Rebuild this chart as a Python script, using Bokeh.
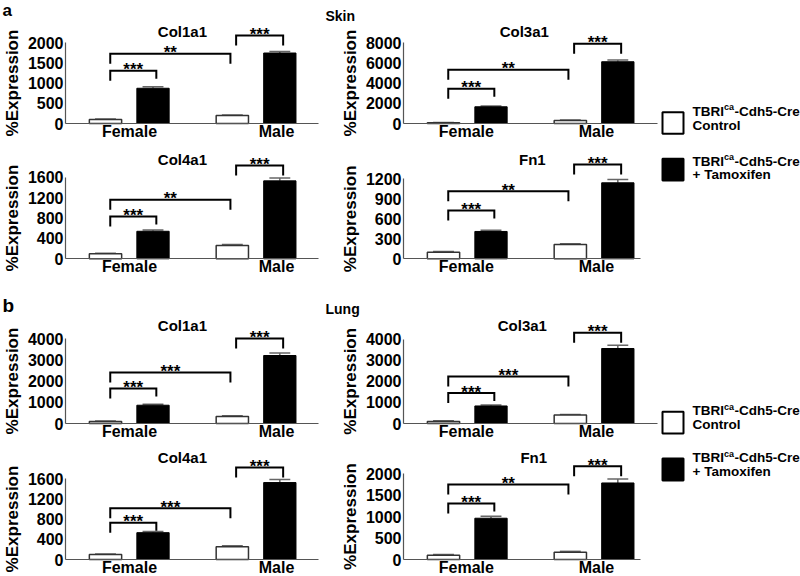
import math
from bokeh.plotting import figure
from bokeh.models import Range1d, FixedTicker
from bokeh.layouts import column, row
from bokeh.embed import file_html
from bokeh.resources import INLINE
from bokeh.core.properties import value

FONT = "Liberation Sans"

# ---------------- data ----------------
groups = ["Female", "Male"]

skin_genes = ["Col1a1", "Col3a1", "Col4a1", "Fn1"]
skin_ctrl = [[100, 200], [80, 300], [100, 260], [100, 215]]
skin_ctrl_err = [[10, 12], [20, 40], [10, 20], [8, 12]]
skin_tam = [[870, 1740], [1650, 6100], [540, 1530], [410, 1140]]
skin_tam_err = [[40, 40], [80, 180], [25, 55], [20, 50]]
skin_axis_max = [2000, 8000, 1600, 1200]
skin_axis_step = [500, 2000, 400, 300]
skin_bracket_y = [[1300, 1720, 2170], [3430, 5300, 7870], [830, 1160, 1830], [725, 1015, 1415]]
skin_sig = [["***", "**", "***"], ["***", "**", "***"], ["***", "**", "***"], ["***", "**", "***"]]

lung_genes = ["Col1a1", "Col3a1", "Col4a1", "Fn1"]
lung_ctrl = [[100, 330], [100, 400], [100, 250], [100, 170]]
lung_ctrl_err = [[20, 30], [25, 30], [10, 20], [15, 20]]
lung_tam = [[860, 3200], [830, 3550], [530, 1520], [960, 1780]]
lung_tam_err = [[45, 120], [45, 150], [25, 60], [45, 90]]
lung_axis_max = [4000, 4000, 1600, 2000]
lung_axis_step = [1000, 1000, 400, 500]
lung_bracket_y = [[1650, 2400, 4000], [1440, 2230, 4300], [725, 1010, 1815], [1300, 1745, 2170]]
lung_sig = [["***", "***", "***"], ["***", "***", "***"], ["***", "***", "***"], ["***", "**", "***"]]

section_letters = ["a", "b"]
section_tissues = ["Skin", "Lung"]
y_label = "%Expression"
legend_line1 = ["TBRI", "ca", "-Cdh5-Cre"]
legend_ctrl_line2 = "Control"
legend_tam_line2 = "+ Tamoxifen"

# ---------------- layout constants (pixels) ----------------
LEFT_W, RIGHT_W, LEG_W = 322, 336, 142
LEFT_AX, RIGHT_AX = 65, 81          # y-axis position inside each figure
UNIT_PX = 47.5                      # px per x unit
BAR_X = [0.0, 1.0, 2.67, 3.67]      # ctrl F, tam F, ctrl M, tam M
BAR_W = 0.68
AXIS_COLOR = "#555555"
BR_X = [(0.10, 1.07), (0.10, 2.63), (2.75, 3.74)]


def txt(p, x, y, s, size, align="left", angle=0.0):
    p.text(x=[x], y=[y], text=[s], text_align=align, text_baseline="middle",
           angle=angle, text_font=value(FONT), text_font_style="bold",
           text_font_size=f"{size}px", text_color="black")


def make_panel(gene, ctrl, ctrl_err, tam, tam_err, axis_max, step, br_y, sig,
               width, ax_px, height, base_px, axis_px, title_px, title_x,
               label_x, xaxis_end, header=None):
    ppu = axis_px / axis_max
    x_start = (-ax_px - 40) / UNIT_PX
    x_end = (width - ax_px - 40) / UNIT_PX
    x_axis0 = -40 / UNIT_PX
    y_end = base_px / ppu
    y_start = -(height - base_px) / ppu

    def px(xp, yp):  # pixel (from figure top-left) -> data
        return x_start + xp / UNIT_PX, y_end - yp / ppu

    p = figure(width=width, height=height,
               x_range=Range1d(x_start, x_end), y_range=Range1d(y_start, y_end),
               min_border=0, min_border_left=0, min_border_right=0,
               min_border_top=0, min_border_bottom=0, toolbar_location=None,
               output_backend="svg", outline_line_color=None)
    p.grid.visible = False
    xa = p.xaxis[0]
    xa.fixed_location = 0
    xa.ticker = FixedTicker(ticks=[])
    xa.bounds = (x_axis0, xaxis_end)
    xa.axis_line_color = AXIS_COLOR
    xa.axis_line_width = 1.2
    xa.major_tick_line_color = None
    xa.minor_tick_line_color = None
    xa.major_label_text_font_size = "0px"
    ya = p.yaxis[0]
    ya.fixed_location = x_axis0
    ya.ticker = FixedTicker(ticks=list(range(0, axis_max + 1, step)))
    ya.bounds = (0, axis_max)
    ya.major_tick_out = 0
    ya.major_tick_in = 0
    ya.minor_tick_line_color = None
    ya.major_label_standoff = 2
    ya.major_label_text_font = FONT
    ya.major_label_text_font_style = "bold"
    ya.major_label_text_font_size = "16px"
    ya.major_label_text_color = "black"
    ya.axis_line_color = AXIS_COLOR
    ya.axis_line_width = 1.2

    cx = [BAR_X[0], BAR_X[2]]
    tx = [BAR_X[1], BAR_X[3]]
    cap = 0.22
    for xs, tops, errs in ((cx, ctrl, ctrl_err), (tx, tam, tam_err)):
        ends = [t + e for t, e in zip(tops, errs)]
        p.segment(x0=xs, y0=tops, x1=xs, y1=ends, line_color="#666666", line_width=1.5)
        p.segment(x0=[x - cap for x in xs], y0=ends, x1=[x + cap for x in xs], y1=ends,
                  line_color="#666666", line_width=1.5)
    p.vbar(x=cx, top=ctrl, width=BAR_W, bottom=0, fill_color="white",
           line_color="#333333", line_width=1.5)
    p.vbar(x=tx, top=tam, width=BAR_W, bottom=0, fill_color="black",
           line_color="black", line_width=1)

    legs = [(10, 8), (10, 10), (10, 10)]
    xs_list, ys_list, sx, sy = [], [], [], []
    for (xl, xr), yb, (ll, lr) in zip(BR_X, br_y, legs):
        xs_list.append([xl, xl, xr, xr])
        ys_list.append([yb - ll / ppu, yb, yb, yb - lr / ppu])
        sx.append((xl + xr) / 2)
        sy.append(yb + 1.0 / ppu)
    p.multi_line(xs=xs_list, ys=ys_list, line_color="black", line_width=2,
                 line_join="miter")
    p.text(x=sx, y=sy, text=sig, text_align="center", text_baseline="middle",
           text_font=value(FONT), text_font_style="bold", text_font_size="17px",
           text_color="black")

    # panel title
    txt(p, title_x, title_px / ppu, gene, 15, align="center")
    # category labels under the axis
    for g, lx in zip(groups, label_x):
        txt(p, lx, -7.5 / ppu, g, 16, align="center")
    # y axis title
    txt(p, x_axis0 - 53 / UNIT_PX, axis_max / 2, y_label, 17, align="center",
        angle=math.pi / 2)
    # section letter / tissue headers
    if header is not None:
        for (s, size, hx, hy) in header:
            X, Y = px(hx, hy)
            txt(p, X, Y, s, size)
    return p


ROWS = {
    "A1": dict(height=140, base=123, title_px=92),
    "A2": dict(height=137, base=118.3, title_px=99),
    "B1": dict(height=163, base=146, title_px=98),
    "B2": dict(height=136, base=119, title_px=102),
}
AXIS_PX = {"A1": (81, 81), "A2": (81.5, 80), "B1": (85, 84.5), "B2": (81, 86)}
TITLE_X = {"A1": (1.62, 1.70), "A2": (1.62, 1.87), "B1": (1.62, 1.66), "B2": (1.62, 1.90)}
LABEL_X = ([0.505, 3.6], [0.48, 3.22])
LEFT_END = 4.48
RIGHT_END = {"A1": 4.50, "A2": 4.15, "B1": 4.50, "B2": 4.15}
HEADERS = {
    "A1": ([(section_letters[0], 17, 2, 10)], [(section_tissues[0], 14, 3, 15)]),
    "B1": ([(section_letters[1], 19, 2, 27.5)], [(section_tissues[1], 14, 3, 31.5)]),
}


def build(rowkey, idx_left, idx_right, genes, ctrl, ctrl_err, tam, tam_err,
          amax, astep, bry, sig):
    r = ROWS[rowkey]
    hdr = HEADERS.get(rowkey, (None, None))
    panels = []
    for side, i in ((0, idx_left), (1, idx_right)):
        panels.append(make_panel(
            genes[i], ctrl[i], ctrl_err[i], tam[i], tam_err[i], amax[i], astep[i],
            bry[i], sig[i],
            width=LEFT_W if side == 0 else RIGHT_W,
            ax_px=LEFT_AX if side == 0 else RIGHT_AX,
            height=r["height"], base_px=r["base"], axis_px=AXIS_PX[rowkey][side],
            title_px=r["title_px"], title_x=TITLE_X[rowkey][side],
            label_x=LABEL_X[side],
            xaxis_end=LEFT_END if side == 0 else RIGHT_END[rowkey],
            header=hdr[side]))
    return row(*panels)


skin_args = (skin_genes, skin_ctrl, skin_ctrl_err, skin_tam, skin_tam_err,
             skin_axis_max, skin_axis_step, skin_bracket_y, skin_sig)
lung_args = (lung_genes, lung_ctrl, lung_ctrl_err, lung_tam, lung_tam_err,
             lung_axis_max, lung_axis_step, lung_bracket_y, lung_sig)

rowA1 = build("A1", 0, 1, *skin_args)
rowA2 = build("A2", 2, 3, *skin_args)
rowB1 = build("B1", 0, 1, *lung_args)
rowB2 = build("B2", 2, 3, *lung_args)

ADV = {"T": 611, "B": 722, "R": 722, "I": 278, "c": 556, "a": 556, "-": 333,
       "C": 722, "d": 611, "h": 611, "5": 556, "r": 389, "e": 556}


def tw(s, size):
    return sum(ADV.get(ch, 556) for ch in s) / 1000 * size


def legend_fig(h, ctrl_box, ctrl_mid, tam_box, tam_mid):
    p = figure(width=LEG_W, height=h, x_range=Range1d(0, LEG_W), y_range=Range1d(h, 0),
               min_border=0, min_border_left=0, min_border_right=0, min_border_top=0,
               min_border_bottom=0, toolbar_location=None, output_backend="svg",
               outline_line_color=None, x_axis_type=None, y_axis_type=None)
    p.grid.visible = False
    bl, br = 4, 25
    p.quad(left=[bl], right=[br], top=[ctrl_box[0]], bottom=[ctrl_box[1]],
           fill_color="white", line_color="black", line_width=2)
    p.quad(left=[bl], right=[br], top=[tam_box[0]], bottom=[tam_box[1]],
           fill_color="black", line_color="black", line_width=2)
    fs, sfs = 13.5, 9
    tx0 = 34
    for (m1, m2), line2 in ((ctrl_mid, legend_ctrl_line2), (tam_mid, legend_tam_line2)):
        xa = tx0
        xb = xa + tw(legend_line1[0], fs)
        xc = xb + tw(legend_line1[1], sfs) + 0.5
        txt(p, xa, m1, legend_line1[0], fs)
        txt(p, xb, m1 - 4, legend_line1[1], sfs)
        txt(p, xc, m1, legend_line1[2], fs)
        txt(p, xa, m2, line2, fs)
    return p


leg_a = legend_fig(140 + 137, (111.7, 133.3), (110.5, 124.5), (158.3, 180), (160.5, 174))
leg_b = legend_fig(163 + 136, (134.3, 156), (133, 147), (181, 203), (180, 194))

layout = column(
    row(column(rowA1, rowA2), leg_a),
    row(column(rowB1, rowB2), leg_b),
)

with open("out.html", "w") as f:
    f.write(file_html(layout, INLINE))
